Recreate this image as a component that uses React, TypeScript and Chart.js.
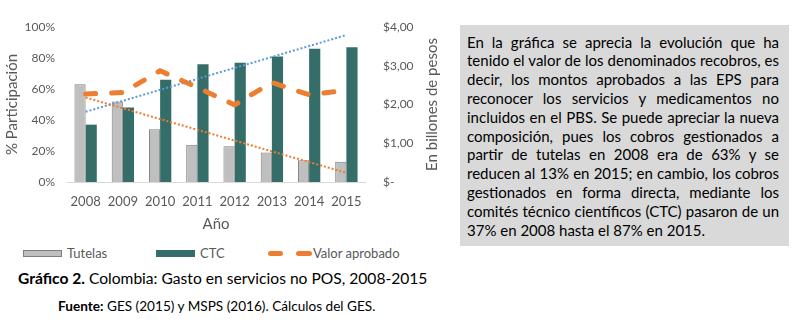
import React, { useEffect, useRef } from 'react';
import { Chart, registerables } from 'chart.js';

Chart.register(...registerables);

const years = ['2008', '2009', '2010', '2011', '2012', '2013', '2014', '2015'];
const tutelas = [63, 52, 34, 24, 23, 19, 14, 13];
const ctc = [37, 48, 66, 76, 77, 81, 86, 87];
const valorAprobado = [2.27, 2.31, 2.87, 2.44, 1.99, 2.57, 2.25, 2.37];
const tutelasTrend = [54.5, null, null, null, null, null, null, 5.9];
const ctcTrend = [45.3, null, null, null, null, null, null, 94.8];
const leftTickLabels = ['0%', '20%', '40%', '60%', '80%', '100%'];
const rightTickLabels = ['$-', '$1,00', '$2,00', '$3,00', '$4,00'];
const rightAxisTitle = 'En billones de pesos';

const boxLines = [
  'En la gráfica se aprecia la evolución que ha',
  'tenido el valor de los denominados recobros, es',
  'decir, los montos aprobados a las EPS para',
  'reconocer los servicios y medicamentos no',
  'incluidos en el PBS. Se puede apreciar la nueva',
  'composición, pues los cobros gestionados a',
  'partir de tutelas en 2008 era de 63% y se',
  'reducen al 13% en 2015; en cambio, los cobros',
  'gestionados en forma directa, mediante los',
  'comités técnico científicos (CTC) pasaron de un',
  '37% en 2008 hasta el 87% en 2015.',
];

const FONT = 'Lato, "Open Sans", sans-serif';
const GRAY_TEXT = '#595959';
const ORANGE = '#ED7D31';
const BLUE = '#5B9BD5';
const GREEN = '#356E68';
const BAR_GRAY = '#BFBFBF';
const BAR_EDGE = '#7F7F7F';

const rightTitlePlugin = {
  id: 'rightTitle',
  afterDraw(chart: any) {
    const scale = chart.scales.y1;
    if (!scale) return;
    const { ctx, chartArea } = chart;
    ctx.save();
    ctx.translate(scale.right - 28, (chartArea.top + chartArea.bottom) / 2);
    ctx.rotate(-Math.PI / 2);
    ctx.font = `15px ${FONT}`;
    ctx.fillStyle = GRAY_TEXT;
    ctx.textAlign = 'center';
    ctx.textBaseline = 'middle';
    ctx.fillText(rightAxisTitle, 0, 0);
    ctx.restore();
  },
};

function ChartCanvas() {
  const ref = useRef<HTMLCanvasElement | null>(null);
  useEffect(() => {
    if (!ref.current) return;
    const chart = new Chart(ref.current, {
      type: 'bar',
      data: {
        labels: years,
        datasets: [
          {
            type: 'line',
            label: 'Valor aprobado',
            data: valorAprobado,
            yAxisID: 'y1',
            borderColor: ORANGE,
            borderWidth: 5,
            borderDash: [10, 16],
            borderCapStyle: 'round',
            pointRadius: 0,
            tension: 0,
            order: 0,
          } as any,
          {
            type: 'line',
            label: 'Lineal (Tutelas)',
            data: tutelasTrend,
            yAxisID: 'y',
            borderColor: ORANGE,
            borderWidth: 2,
            borderDash: [2, 2],
            pointRadius: 0,
            spanGaps: true,
            order: 1,
          } as any,
          {
            type: 'line',
            label: 'Lineal (CTC)',
            data: ctcTrend,
            yAxisID: 'y',
            borderColor: BLUE,
            borderWidth: 2,
            borderDash: [2, 2],
            pointRadius: 0,
            spanGaps: true,
            order: 1,
          } as any,
          {
            type: 'bar',
            label: 'Tutelas',
            data: tutelas,
            yAxisID: 'y',
            backgroundColor: BAR_GRAY,
            borderColor: BAR_EDGE,
            borderWidth: 1,
            categoryPercentage: 0.6,
            barPercentage: 1.0,
            order: 2,
          } as any,
          {
            type: 'bar',
            label: 'CTC',
            data: ctc,
            yAxisID: 'y',
            backgroundColor: GREEN,
            borderWidth: 0,
            categoryPercentage: 0.6,
            barPercentage: 1.0,
            order: 2,
          } as any,
        ],
      },
      options: {
        responsive: false,
        animation: false,
        devicePixelRatio: 1,
        layout: { padding: { top: 27, left: 0, right: 0, bottom: 0 } },
        plugins: { legend: { display: false }, tooltip: { enabled: false } },
        scales: {
          x: {
            offset: true,
            grid: { display: true, drawOnChartArea: false, drawTicks: false },
            border: { display: true, color: '#D9D9D9', width: 1 },
            ticks: { color: GRAY_TEXT, font: { family: FONT, size: 13 }, padding: 12, maxRotation: 0 },
            title: {
              display: true,
              text: 'Año',
              color: GRAY_TEXT,
              font: { family: FONT, size: 15 },
              padding: { top: 0, bottom: 7 },
            },
            afterFit: (s: any) => {
              s.height = 58;
            },
          },
          y: {
            position: 'left',
            min: 0,
            max: 100,
            ticks: {
              stepSize: 20,
              color: GRAY_TEXT,
              font: { family: FONT, size: 12 },
              padding: 12,
              callback: (_v: any, i: number) => leftTickLabels[i],
            },
            grid: { display: false, drawTicks: false },
            border: { display: false },
            title: {
              display: true,
              text: '% Participación',
              color: GRAY_TEXT,
              font: { family: FONT, size: 15 },
              padding: { top: 3, bottom: 0 },
            },
            afterFit: (s: any) => {
              s.width = 67;
            },
          },
          y1: {
            position: 'right',
            min: 0,
            max: 4,
            ticks: {
              stepSize: 1,
              color: GRAY_TEXT,
              font: { family: FONT, size: 12 },
              padding: 18,
              callback: (_v: any, i: number) => rightTickLabels[i],
            },
            grid: { display: false, drawTicks: false },
            border: { display: false },
            title: { display: false },
            afterFit: (s: any) => {
              s.width = 95;
            },
          },
        },
      } as any,
      plugins: [rightTitlePlugin],
    });
    return () => chart.destroy();
  }, []);
  return (
    <canvas
      ref={ref}
      width={460}
      height={240}
      style={{ position: 'absolute', left: 0, top: 0, width: 460, height: 240 }}
    />
  );
}

export default function App() {
  const legendText: React.CSSProperties = {
    position: 'absolute',
    top: 244,
    lineHeight: '18px',
    fontSize: 13,
    color: GRAY_TEXT,
    whiteSpace: 'nowrap',
  };
  return (
    <div
      style={{
        position: 'fixed',
        left: 0,
        top: 0,
        width: 798,
        height: 328,
        background: '#FFFFFF',
        fontFamily: FONT,
        overflow: 'hidden',
      }}
    >
      <ChartCanvas />
      {/* legend */}
      <div style={{ position: 'absolute', left: 23, top: 250, width: 39, height: 7, boxSizing: 'border-box', background: BAR_GRAY, border: `1px solid ${BAR_EDGE}` }} />
      <div style={{ ...legendText, left: 67 }}>Tutelas</div>
      <div style={{ position: 'absolute', left: 156, top: 250, width: 39, height: 7, background: GREEN }} />
      <div style={{ ...legendText, left: 200 }}>CTC</div>
      <div style={{ position: 'absolute', left: 268, top: 251, width: 15, height: 5, borderRadius: 2.5, background: ORANGE }} />
      <div style={{ position: 'absolute', left: 296, top: 251, width: 16, height: 5, borderRadius: 2.5, background: ORANGE }} />
      <div style={{ ...legendText, left: 313 }}>Valor aprobado</div>
      {/* caption */}
      <div style={{ position: 'absolute', left: 18, top: 267, lineHeight: '22px', fontSize: 15.6, color: '#000', whiteSpace: 'nowrap' }}>
        <b>Gráfico 2.</b> Colombia: Gasto en servicios no POS, 2008-2015
      </div>
      <div style={{ position: 'absolute', left: 58, top: 297, lineHeight: '18px', fontSize: 13.6, color: '#000', whiteSpace: 'nowrap' }}>
        <b>Fuente:</b> GES (2015) y MSPS (2016). Cálculos del GES.
      </div>
      {/* text box */}
      <div style={{ position: 'absolute', left: 460, top: 25, width: 329, height: 221, background: '#D9D9D9' }} />
      {boxLines.map((line, i) => (
        <div
          key={i}
          style={{
            position: 'absolute',
            left: 467,
            width: 312,
            top: 32.6 + 18.8 * i,
            lineHeight: '18.8px',
            fontSize: 15,
            color: '#000',
            whiteSpace: 'nowrap',
            textAlign: i === boxLines.length - 1 ? 'left' : 'justify',
            textAlignLast: i === boxLines.length - 1 ? 'left' : 'justify',
          } as React.CSSProperties}
        >
          {line}
        </div>
      ))}
    </div>
  );
}
